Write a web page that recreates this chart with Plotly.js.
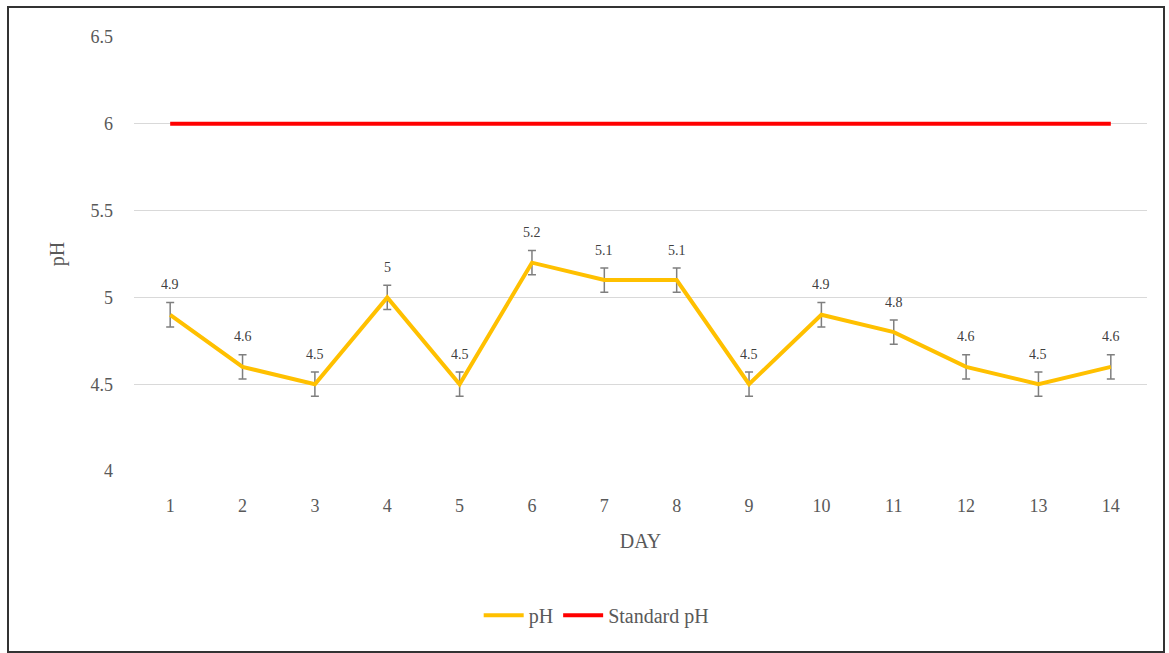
<!DOCTYPE html>
<html><head><meta charset="utf-8">
<script src="https://cdn.plot.ly/plotly-3.0.1.min.js"></script>
<style>
html,body{margin:0;padding:0;background:#fff;}
#frame{position:absolute;left:7px;top:6px;width:1154px;height:643px;border:2px solid #333;box-sizing:content-box;}
#chart{position:absolute;left:0;top:0;width:1169px;height:653px;}
</style></head>
<body>
<div id="chart"></div>
<div id="frame" style="pointer-events:none;"></div>
<script>
const days = [1,2,3,4,5,6,7,8,9,10,11,12,13,14];
const phValues = [4.9,4.6,4.5,5.0,4.5,5.2,5.1,5.1,4.5,4.9,4.8,4.6,4.5,4.6];
const phError = [0.07,0.07,0.07,0.07,0.07,0.07,0.07,0.07,0.07,0.07,0.07,0.07,0.07,0.07];
const standardPh = [6,6,6,6,6,6,6,6,6,6,6,6,6,6];
const phLabels = ['4.9','4.6','4.5','5','4.5','5.2','5.1','5.1','4.5','4.9','4.8','4.6','4.5','4.6'];
const yTicks = [4,4.5,5,5.5,6,6.5];
const yTickText = ['4','4.5','5','5.5','6','6.5'];

const font = 'Liberation Serif, Times New Roman, serif';

const traces = [
  {x: days, y: phValues, type:'scatter', mode:'lines', name:'pH',
   line:{color:'#FFC000', width:4},
   error_y:{type:'data', array: phError, visible:true, color:'#7f7f7f', thickness:1.5, width:4}},
  {x: days, y: standardPh, type:'scatter', mode:'lines', name:'Standard pH',
   line:{color:'#FF0000', width:4}}
];

const annotations = days.map((d,i)=>({
  x:d, y:phValues[i], text:phLabels[i], showarrow:false, yshift:30,
  font:{family:font, size:14, color:'#404040'}
}));

const layout = {
  width:1169, height:653,
  margin:{l:134, r:22, t:37, b:182},
  paper_bgcolor:'rgba(0,0,0,0)', plot_bgcolor:'#fff',
  font:{family:font, color:'#595959', size:17},
  showlegend:true,
  legend:{orientation:'h', x:0.51, xanchor:'center', xref:'container', yref:'container', y:0.058, yanchor:'middle',
          font:{family:font, size:20, color:'#595959'}, itemwidth:40},
  xaxis:{range:[0.5,14.5], tickvals:days, ticktext:days.map(String), showgrid:false,
         zeroline:false, showline:false, ticks:'', ticklen:0, ticklabelstandoff:22,
         title:{text:'DAY', font:{family:font, size:20, color:'#595959'}, standoff:18},
         tickfont:{family:font, size:18, color:'#595959'}},
  yaxis:{range:[4,6.5], tickvals:yTicks, ticktext:yTickText, showgrid:true, gridcolor:'#d9d9d9',
         gridwidth:1, zeroline:false, showline:false, ticks:'', ticklabelstandoff:20,
         title:{text:'pH', font:{family:font, size:20, color:'#595959'}, standoff:20},
         tickfont:{family:font, size:18, color:'#595959'}},
  annotations: annotations
};

Plotly.newPlot('chart', traces, layout, {displayModeBar:false, staticPlot:true});
</script>
</body></html>
